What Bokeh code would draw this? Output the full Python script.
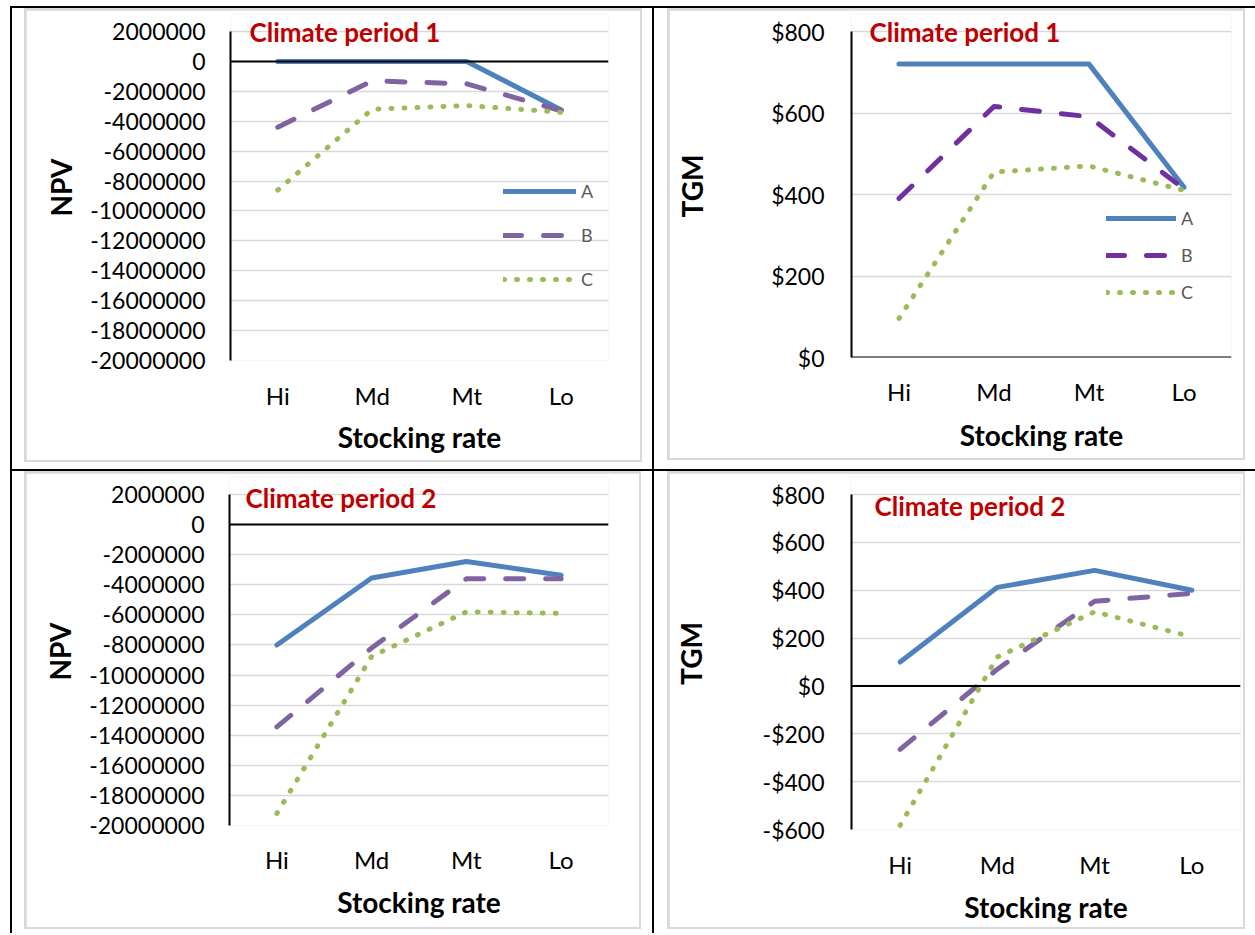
from bokeh.plotting import figure
from bokeh.models import Range1d, FactorRange, FixedTicker, Span, Label, Legend, LegendItem
from bokeh.layouts import row, column
from bokeh.embed import file_html
from bokeh.resources import INLINE

# ---------------- data ----------------
stocking = ["Hi", "Md", "Mt", "Lo"]
series_names = ["A", "B", "C"]
titles = ["Climate period 1", "Climate period 1", "Climate period 2", "Climate period 2"]

npv1_A = [0, 0, 0, -3250000]
npv1_B = [-4400000, -1300000, -1500000, -3300000]
npv1_C = [-8600000, -3200000, -2950000, -3400000]

tgm1_A = [720, 720, 720, 418]
tgm1_B = [390, 616, 591, 414]
tgm1_C = [96, 455, 470, 410]

npv2_A = [-8000000, -3550000, -2450000, -3370000]
npv2_B = [-13450000, -8200000, -3600000, -3600000]
npv2_C = [-19200000, -8760000, -5800000, -5900000]

tgm2_A = [100, 412, 483, 400]
tgm2_B = [-265, 70, 354, 387]
tgm2_C = [-583, 121, 310, 205]

npv_ticks = [2000000, 0, -2000000, -4000000, -6000000, -8000000, -10000000,
             -12000000, -14000000, -16000000, -18000000, -20000000]
npv_tick_labels = ["2000000", "0", "-2000000", "-4000000", "-6000000", "-8000000",
                   "-10000000", "-12000000", "-14000000", "-16000000", "-18000000", "-20000000"]
tgm1_ticks = [0, 200, 400, 600, 800]
tgm1_tick_labels = ["$0", "$200", "$400", "$600", "$800"]
tgm2_ticks = [-600, -400, -200, 0, 200, 400, 600, 800]
tgm2_tick_labels = ["-$600", "-$400", "-$200", "$0", "$200", "$400", "$600", "$800"]

FONT = "Lato"
COL_A = "#4F81BD"
COL_B = "#8064A2"
COL_B_DARK = "#7030A0"
COL_C = "#9BBB59"
EXT = 17  # px of frame above the top tick (room for the in-plot title)


def make_panel(w, h, bl, br, bt, bb, ticks, tick_labels, ylabel, series, title,
               title_dx, title_dy, ylab_standoff, ytick_standoff, xtick_standoff,
               xlab_standoff, b_color, legend_cfg=None):
    ymin, ymax = min(ticks), max(ticks)
    frame_h = h - bt - bb
    ext = EXT * (ymax - ymin) / (frame_h - EXT)
    p = figure(width=w, height=h, x_range=FactorRange(*stocking, range_padding=0),
               y_range=Range1d(ymin, ymax + ext), output_backend="svg",
               toolbar_location=None, min_border_left=bl, min_border_right=br,
               min_border_top=bt, min_border_bottom=bb)
    p.outline_line_color = None
    p.background_fill_color = "white"
    p.border_fill_color = "white"
    p.xgrid.visible = False
    p.ygrid.grid_line_color = "#D9D9D9"
    p.ygrid.grid_line_width = 1.5

    p.yaxis.ticker = FixedTicker(ticks=ticks)
    p.yaxis.bounds = (ymin, ymax)
    p.yaxis.major_label_overrides = {t: s for t, s in zip(ticks, tick_labels)}
    p.yaxis.major_tick_line_color = None
    p.yaxis.minor_tick_line_color = None
    p.yaxis.axis_line_color = "black"
    p.yaxis.axis_line_width = 2
    p.yaxis.major_label_text_font = FONT
    p.yaxis.major_label_text_font_size = "23px"
    p.yaxis.major_label_text_color = "#000000"
    p.yaxis.major_label_standoff = ytick_standoff
    p.yaxis.axis_label = ylabel
    p.yaxis.axis_label_text_font = FONT
    p.yaxis.axis_label_text_font_style = "bold"
    p.yaxis.axis_label_text_font_size = "28px"
    p.yaxis.axis_label_text_color = "#000000"
    p.yaxis.axis_label_standoff = ylab_standoff

    p.xaxis.axis_line_color = None
    p.xaxis.major_tick_line_color = None
    p.xaxis.minor_tick_line_color = None
    p.xaxis.major_label_text_font = FONT
    p.xaxis.major_label_text_font_size = "24px"
    p.xaxis.major_label_text_color = "#000000"
    p.xaxis.major_label_standoff = xtick_standoff
    p.xaxis.axis_label = "Stocking rate"
    p.xaxis.axis_label_text_font = FONT
    p.xaxis.axis_label_text_font_style = "bold"
    p.xaxis.axis_label_text_font_size = "28px"
    p.xaxis.axis_label_text_color = "#000000"
    p.xaxis.axis_label_standoff = xlab_standoff

    p.add_layout(Span(location=0, dimension="width", line_color="black", line_width=2))

    ya, yb, yc = series
    rA = p.line(stocking, ya, line_color=COL_A, line_width=5, line_join="round",
                line_cap="round")
    rB = p.line(stocking, yb, line_color=b_color, line_width=5, line_dash="18 22",
                line_join="round", line_cap="round")
    rC = p.line(stocking, yc, line_color=COL_C, line_width=5, line_dash="1 12",
                line_join="round", line_cap="round")

    p.add_layout(Label(x=title_dx, y=frame_h - EXT - title_dy, x_units="screen",
                       y_units="screen", text=title, text_font=FONT,
                       text_font_style="bold", text_font_size="26px",
                       text_color="#C00000", text_baseline="middle", text_align="left"))

    if legend_cfg is not None:
        lx, ly, gw, sp = legend_cfg
        leg = Legend(items=[LegendItem(label=series_names[0], renderers=[rA]),
                            LegendItem(label=series_names[1], renderers=[rB]),
                            LegendItem(label=series_names[2], renderers=[rC])],
                     location=(lx, ly), orientation="vertical",
                     glyph_width=gw, glyph_height=20, label_height=20, spacing=sp,
                     label_standoff=5, padding=0, margin=0,
                     border_line_color=None, background_fill_alpha=0,
                     label_text_font=FONT, label_text_font_size="18px",
                     label_text_color="#595959")
        p.add_layout(leg, "center")
    return p


def cell(fig, top, right, bottom, left):
    gray = column(fig, styles={"background-color": "#D9D9D9", "padding": "2px"})
    return column(gray, styles={"background-color": "white",
                                "padding": f"{top}px {right}px {bottom}px {left}px"})


p1 = make_panel(614, 450, 204, 32, 4, 100, npv_ticks, npv_tick_labels, "NPV",
                (npv1_A, npv1_B, npv1_C), titles[0], 19, 0, 9, 19, 14, 7, COL_B,
                legend_cfg=(273, 70, 73, 22))
p2 = make_panel(574, 448, 182, 12, 4, 101, tgm1_ticks, tgm1_tick_labels, "TGM",
                (tgm1_A, tgm1_B, tgm1_C), titles[1], 18, 0, 59, 21, 13, 9, COL_B_DARK,
                legend_cfg=(255, 54, 70, 15))
p3 = make_panel(613, 454, 203, 31, 4, 102, npv_ticks, npv_tick_labels, "NPV",
                (npv2_A, npv2_B, npv2_C), titles[2], 16, 3, 9, 19, 13, 8, COL_B)
p4 = make_panel(574, 454, 182, 3, 4, 98, tgm2_ticks, tgm2_tick_labels, "TGM",
                (tgm2_A, tgm2_B, tgm2_C), titles[3], 23, 11, 52, 21, 14, 8, COL_B)

top_row = row(cell(p1, 0, 10, 7, 12), cell(p2, 0, 10, 9, 13), spacing=2,
              styles={"background-color": "black"})
bottom_row = row(cell(p3, 0, 11, 4, 12), cell(p4, 0, 10, 4, 13), spacing=2,
                 styles={"background-color": "black"})
grid = column(top_row, bottom_row, spacing=2,
              styles={"background-color": "black", "padding": "2px 0px 0px 2px"})
layout = column(grid, styles={"background-color": "white", "padding": "6px 0px 0px 10px"})

open("out.html", "w").write(file_html(layout, INLINE))
